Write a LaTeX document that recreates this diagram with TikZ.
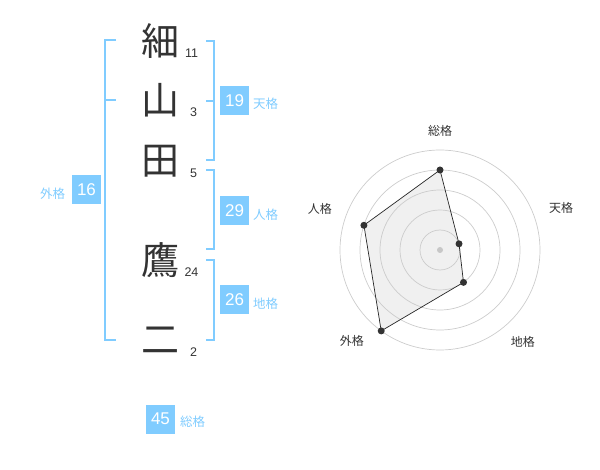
\documentclass[tikz,border=0pt]{standalone}
\usepackage{fontspec}
\setmainfont{Liberation Sans}
\newfontfamily\jp{Noto Sans CJK JP}
\usepackage{tikz}
\usetikzlibrary{calc,positioning}
\definecolor{KakuBlue}{RGB}{128,204,255}
\definecolor{InkGray}{RGB}{51,51,51}

\begin{document}
\begin{tikzpicture}[x=1pt, y=-1pt,
       every node/.style={inner sep=0pt, outer sep=0pt},
       kanji/.style={font=\jp\fontsize{38}{38}\selectfont, text=InkGray},
       strokes/.style={font=\fontsize{12.5}{12.5}\selectfont, text=InkGray},
       bracket/.style={draw=KakuBlue, line width=2pt},
       kakubox/.style={fill=KakuBlue, text=white, minimum size=29pt,
                       font=\fontsize{17}{17}\selectfont},
       kakulabel/.style={font=\jp\fontsize{12.5}{12.5}\selectfont, text=KakuBlue},
       ring/.style={draw=black!20, line width=0.7pt},
       axislabel/.style={font=\jp\fontsize{12}{12}\selectfont, text=InkGray},
       dot/.style={circle, fill=InkGray, minimum size=7pt}]

	\useasboundingbox (0,0) rectangle (600,470);

	%% Name characters with their stroke counts
	\foreach [count=\i] \ch/\y/\n/\nx in {細/41/11/191.5, 山/100/3/193.5, 田/161/5/193.5,
	                                      鷹/260/24/191.5, 二/340/2/193.5}
		{\node[kanji] (k\i) at (160,\y) {\ch};
		 \node[strokes] (s\i) at (\nx,\y+12.5) {\n};}

	%% Brackets grouping the characters
	\draw[bracket] (116,40) -- (105,40) -- (105,340) -- (116,340) (105,100) -- (116,100);
	\draw[bracket] (206,41) -- (214,41) -- (214,160) -- (206,160) (206,101) -- (214,101);
	\draw[bracket] (206,170) -- (214,170) -- (214,249) -- (206,249);
	\draw[bracket] (206,260) -- (214,260) -- (214,340) -- (206,340);

	%% Scores
	\node[kakubox] (ten) at (234.5,100.5) {19};
	\node[kakulabel, right=4pt of ten, yshift=-3.5pt] (tenl) {天格};
	\node[kakubox] (jin) at (234.5,211) {29};
	\node[kakulabel, right=4pt of jin, yshift=-3.5pt] (jinl) {人格};
	\node[kakubox] (chi) at (234.5,300) {26};
	\node[kakulabel, right=4pt of chi, yshift=-3.5pt] (chil) {地格};
	\node[kakubox] (gai) at (86.5,190) {16};
	\node[kakulabel, left=7pt of gai, yshift=-3.5pt] (gail) {外格};
	\node[kakubox] (sou) at (160.5,419) {45};
	\node[kakulabel, right=5pt of sou, yshift=-3pt] (soul) {総格};

	%% Radar chart: fill first, rings over it, then the outline
	\coordinate (c) at (440,250);
	\foreach [count=\i] \a/\r in {-90/80, -18/20, 54/40, 126/100, 198/80}
		\coordinate (p\i) at ($(c)+(\a:\r)$);
	\fill[black!6] (p1) -- (p2) -- (p3) -- (p4) -- (p5) -- cycle;
	\foreach \r in {20,40,...,100}
		\draw[ring] (c) circle[radius=\r pt];
	\draw[draw=black!85, line width=0.7pt]
		(p1) -- (p2) -- (p3) -- (p4) -- (p5) -- cycle;
	\node[circle, fill=black!22, minimum size=6pt] (hub) at (c) {};
	\foreach \i in {1,...,5}
		\node[dot] (d\i) at (p\i) {};
	\foreach [count=\i] \a/\r/\lab in {-90/119/総格, -19/128/天格, 48/124/地格,
	                                   134/127/外格, 199/127/人格}
		\node[axislabel] (ax\i) at ($(c)+(\a:\r)$) {\lab};
\end{tikzpicture}
\end{document}
